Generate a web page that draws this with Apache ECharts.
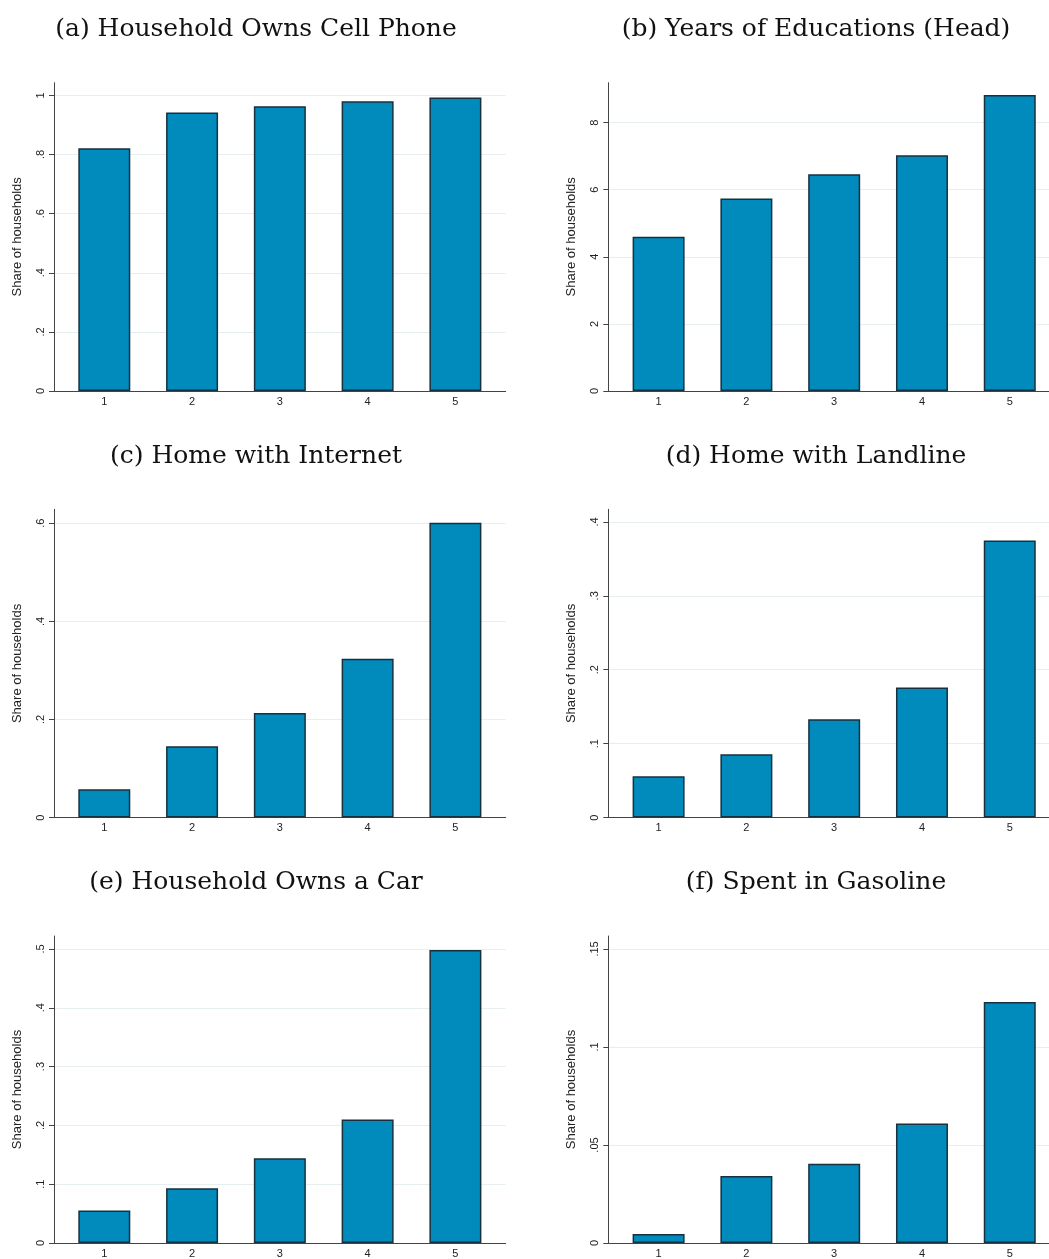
<!DOCTYPE html>
<html>
<head>
<meta charset="utf-8">
<script src="https://cdn.jsdelivr.net/npm/echarts@6/dist/echarts.min.js"></script>
<style>
html,body{margin:0;padding:0;background:#fff;}
#chart{width:1049px;height:1259px;}
</style>
</head>
<body>
<div id="chart"></div>
<script>
// ---- data ----
const quintiles = [1, 2, 3, 4, 5];
const titles = [
  "(a) Household Owns Cell Phone",
  "(b) Years of Educations (Head)",
  "(c) Home with Internet",
  "(d) Home with Landline",
  "(e) Household Owns a Car",
  "(f) Spent in Gasoline"
];
const cellPhone = [0.821, 0.942, 0.963, 0.980, 0.993];
const educationYears = [4.60, 5.74, 6.46, 7.03, 8.82];
const internet = [0.058, 0.1455, 0.213, 0.324, 0.601];
const landline = [0.056, 0.0858, 0.133, 0.176, 0.3747];
const car = [0.0552, 0.0931, 0.144, 0.210, 0.498];
const gasoline = [0.0046, 0.0342, 0.0404, 0.061, 0.1229];
const ticksA = [0, 0.2, 0.4, 0.6, 0.8, 1];
const ticksB = [0, 2, 4, 6, 8];
const ticksC = [0, 0.2, 0.4, 0.6];
const ticksD = [0, 0.1, 0.2, 0.3, 0.4];
const ticksE = [0, 0.1, 0.2, 0.3, 0.4, 0.5];
const ticksF = [0, 0.05, 0.1, 0.15];
const yAxisTitle = "Share of households";

const seriesValues = [cellPhone, educationYears, internet, landline, car, gasoline];
const yTicks = [ticksA, ticksB, ticksC, ticksD, ticksE, ticksF];
const yMax = [1.043, 9.19, 0.6285, 0.417, 0.522, 0.1566];

// ---- layout ----
const colLeft = [54, 608.3];
const colWidth = [451.7, 440.7];
const colXMax = [5.573, 5.447];
const rowTop = [82.7, 509.3, 936];
const plotH = 308.3;
const titleCenter = [251, 811];
const titleTop = [12, 438.7, 865.3];

function fmt(v) {
  let s = String(v);
  if (s.startsWith("0.")) s = s.slice(1);
  return s;
}

const grids = [], xAxes = [], yAxes = [], series = [], titleList = [];
for (let i = 0; i < 6; i++) {
  const col = i % 2, row = Math.floor(i / 2);
  grids.push({ left: colLeft[col], top: rowTop[row], width: colWidth[col], height: plotH, containLabel: false });
  titleList.push({
    text: titles[i],
    left: titleCenter[col], top: titleTop[row], textAlign: 'center',
    textStyle: { fontFamily: 'DejaVu Serif', fontWeight: 'normal', fontSize: 25, color: '#111' }
  });
  xAxes.push({
    type: 'value', gridIndex: i, min: 0.427, max: colXMax[col],
    axisLine: { show: true, lineStyle: { color: '#444', width: 1 } },
    axisTick: { show: false, customValues: quintiles },
    axisLabel: { customValues: quintiles, margin: 5, fontFamily: 'Liberation Sans', fontSize: 11, color: '#222' },
    splitLine: { show: false }
  });
  yAxes.push({
    type: 'value', gridIndex: i, min: 0, max: yMax[i],
    name: yAxisTitle, nameLocation: 'middle', nameRotate: 90, nameGap: 30,
    nameTextStyle: { fontFamily: 'Liberation Sans', fontSize: 13, color: '#222' },
    axisLine: { show: true, lineStyle: { color: '#444', width: 1 } },
    axisTick: { show: true, length: 5, customValues: yTicks[i], lineStyle: { color: '#444' } },
    axisLabel: { customValues: yTicks[i], rotate: 90, margin: 8, formatter: fmt,
      fontFamily: 'Liberation Sans', fontSize: 11, color: '#222' },
    splitLine: { show: true, lineStyle: { color: '#e6eef0', width: 1 } }
  });
  series.push({
    type: 'bar', xAxisIndex: i, yAxisIndex: i,
    data: quintiles.map((q, k) => [q, seriesValues[i][k]]),
    barWidth: 52,
    itemStyle: { color: '#008bbc', borderColor: '#17313f', borderWidth: 1.5 },
    animation: false,
    silent: true
  });
}

const chart = echarts.init(document.getElementById('chart'), null, { renderer: 'canvas' });
chart.setOption({
  backgroundColor: '#ffffff',
  animation: false,
  title: titleList,
  grid: grids,
  xAxis: xAxes,
  yAxis: yAxes,
  series: series
});
</script>
</body>
</html>
